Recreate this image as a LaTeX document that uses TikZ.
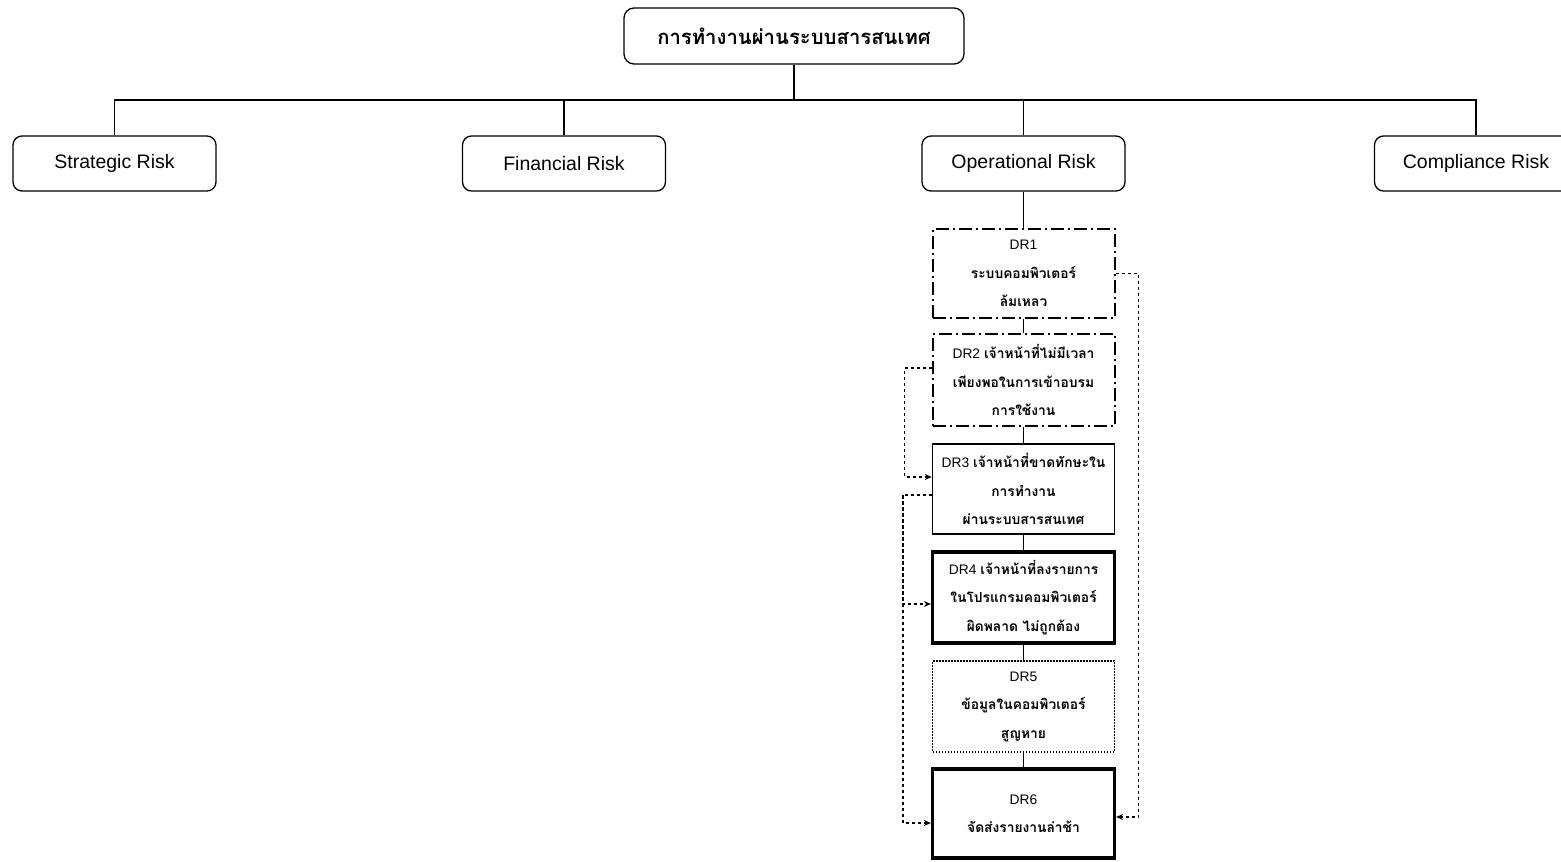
\documentclass[tikz,border=0pt]{standalone}
\usepackage{fontspec}
\setmainfont{Liberation Sans}
\newfontfamily\thai[Script=Thai]{Loma}
\usetikzlibrary{calc,arrows.meta}

\tikzset{
  box/.style={draw, line width=1.3pt, rounded corners=9pt, minimum width=203pt,
              minimum height=55pt, inner sep=0pt, font=\fontsize{19.5}{22}\selectfont},
  titlebox/.style={box, minimum width=340pt, minimum height=56pt, rounded corners=10pt,
              font=\thai\bfseries\fontsize{20.3}{24}\selectfont},
  drbox/.style={draw, minimum width=182pt, inner sep=0pt, align=center,
              font=\fontsize{13.8}{28.5}\selectfont},
  dashdot/.style={line width=2pt, dash pattern=on 13pt off 4pt on 2pt off 4pt},
  plain/.style={line width=1.6pt},
  heavy/.style={line width=3.2pt},
  dots/.style={line width=1.6pt, dash pattern=on 1.6pt off 1.4pt},
  tree/.style={line width=1.3pt},
  link/.style={line width=1.6pt, dash pattern=on 3pt off 3pt,
              -{Stealth[length=7pt,width=6pt]}},
}

\begin{document}
\begin{tikzpicture}[x=1pt,y=-1pt]
\useasboundingbox (0,0) rectangle (1561,862);
\fill[white] (0,0) rectangle (1561,862);
\begin{scope}
\clip (0,0) rectangle (1561,862);

% top of the hierarchy
\node[titlebox] (top) at (794,36) {การทำงานผ่านระบบสารสนเทศ};

% risk categories
\node[box] (strat) at (114.5,163.5) {Strategic Risk};
\node[box] (fin)   at (564,163.5)   {Financial Risk};
\node[box] (op)    at (1023.5,163.5)  {Operational Risk};
\node[box] (comp)  at (1476,163.5)  {Compliance Risk};

\coordinate (bar) at (794,100);
\draw[tree] (top.south) -- (top.south |- bar);
\draw[tree] (strat.north) -- (strat.north |- bar) -- (comp.north |- bar) -- (comp.north);
\draw[tree] (fin.north) -- (fin.north |- bar);
\draw[tree] (op.north) -- (op.north |- bar);

% operational risk chain
\node[drbox, dashdot, minimum height=89pt] (dr1) at (1023.5,273.5)
  {DR1\\{\thai\bfseries ระบบคอมพิวเตอร์}\\{\thai\bfseries ล้มเหลว}};
\node[drbox, dashdot, minimum height=92pt] (dr2) at (1023.5,380)
  {DR2 {\thai\bfseries เจ้าหน้าที่ไม่มีเวลา}\\{\thai\bfseries เพียงพอในการเข้าอบรม}\\{\thai\bfseries การใช้งาน}};
\node[drbox, plain, minimum height=90pt] (dr3) at (1023.5,489)
  {DR3 {\thai\bfseries เจ้าหน้าที่ขาดทักษะใน}\\{\thai\bfseries การทำงาน}\\{\thai\bfseries ผ่านระบบสารสนเทศ}};
\node[drbox, heavy, minimum height=91pt] (dr4) at (1023.5,597.5)
  {DR4 {\thai\bfseries เจ้าหน้าที่ลงรายการ}\\{\thai\bfseries ในโปรแกรมคอมพิวเตอร์}\\{\thai\bfseries ผิดพลาด ไม่ถูกต้อง}};
\node[drbox, dots, minimum height=91pt] (dr5) at (1023.5,706.5)
  {DR5\\{\thai\bfseries ข้อมูลในคอมพิวเตอร์}\\{\thai\bfseries สูญหาย}};
\node[drbox, heavy, minimum height=89pt] (dr6) at (1023.5,813.5)
  {DR6\\{\thai\bfseries จัดส่งรายงานล่าช้า}};

\draw[tree] (op.south) -- (dr1.north);
\draw[tree] (dr1.south) -- (dr2.north);
\draw[tree] (dr2.south) -- (dr3.north);
\draw[tree] (dr3.south) -- (dr4.north);
\draw[tree] (dr4.south) -- (dr5.north);
\draw[tree] (dr5.south) -- (dr6.north);

% cause-effect links
\draw[link] (dr1.east) -- ++(23,0) |- ($(dr6.east)+(0,3.5)$);
\draw[link] ($(dr2.west)+(0,-12)$) -- ++(-27,0) |- ($(dr3.west)+(0,-12)$);
\draw[link] ($(dr3.west)+(0,6)$) -- ++(-29,0) |- ($(dr6.west)+(0,9.5)$);
\draw[link] ($(dr3.west)+(-29,6)$) |- ($(dr4.west)+(0,6.5)$);
\end{scope}
\end{tikzpicture}
\end{document}
